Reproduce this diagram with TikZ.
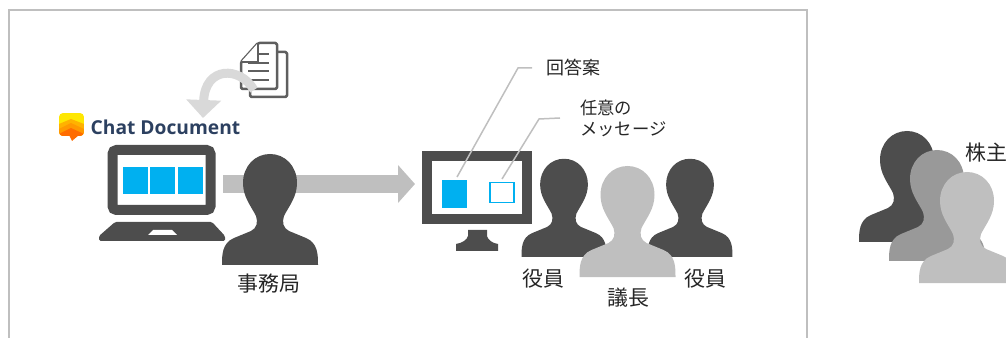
\documentclass[tikz,border=0pt]{standalone}
\usepackage{fontspec}
\setmainfont{Noto Sans CJK JP}
\newfontfamily\chatfont{Open Sans}
\usetikzlibrary{arrows.meta,positioning}
\newcommand{\px}{0.75pt}
\newcommand{\jp}[1]{\fontsize{#1}{#1}\selectfont}

\begin{document}
\begin{tikzpicture}[x=0.75pt,y=-0.75pt,
    person/.pic={
      \fill[pic actions] (-48,0) .. controls (-48,-10) and (-48,-22) .. (-36,-27)
        -- (-19,-34) .. controls (-13,-37) and (-12,-43) .. (-14,-49)
        .. controls (-19,-59) and (-27,-68) .. (-27,-82)
        .. controls (-27,-99) and (-15,-111) .. (0,-111)
        .. controls (15,-111) and (27,-99) .. (27,-82)
        .. controls (27,-68) and (19,-59) .. (14,-49)
        .. controls (12,-43) and (13,-37) .. (19,-34)
        -- (36,-27) .. controls (48,-22) and (48,-10) .. (48,0) -- cycle;
    }]
  \definecolor{dark}{HTML}{4D4D4D}
  \definecolor{mid}{HTML}{999999}
  \definecolor{light}{HTML}{BFBFBF}
  \definecolor{sky}{HTML}{00B0F0}
  \tikzstyle{every node}=[inner sep=0pt,outer sep=0pt]
  \tikzstyle{screen}=[draw=dark,fill=white,line width=10*\px]
  \tikzstyle{panel}=[fill=sky,minimum width=25*\px,minimum height=27*\px]
  \tikzstyle{leader}=[draw=light,line width=1.5*\px]
  \tikzstyle{sheet}=[draw=dark!90,fill=white,line width=2.5*\px,line join=round]
  \tikzstyle{label}=[font=\jp{15.7},text=black!85]
  \tikzstyle{small}=[font=\jp{13},text=black!85]
  \useasboundingbox (0,0) rectangle (1006,338);

  % frame
  \draw[light,line width=1.5*\px] (9,338) -- (9,10) -- (807,10) -- (807,338);

  % laptop and monitor
  \node[screen,rounded corners=4*\px,minimum width=98*\px,minimum height=60*\px] (laptop) at (161.5,180) {};
  \node[panel] (tile_a) at (135,180.5) {};
  \node[panel] (tile_b) [right=2.5*\px of tile_a] {};
  \node[panel] (tile_c) [right=2.5*\px of tile_b] {};
  \fill[dark,rounded corners=1.5*\px] (99,241) -- (99,236) -- (115,222) -- (212,222) -- (225,236) -- (225,241) -- cycle;
  \fill[white] (148,235) -- (153,230) -- (172,230) -- (177,235) -- cycle;

  \node[screen,minimum width=100*\px,minimum height=62.5*\px] (monitor) at (477,187.5) {};
  \node[panel,minimum height=28*\px] (answer) at (454.5,194) {};
  \node[draw=sky,fill=white,line width=1.5*\px,minimum width=24*\px,minimum height=20*\px] (message) at (502,192.5) {};
  \fill[dark] (468,230) -- (487,230) -- (487,236) .. controls (488,240) and (492,243) .. (498,244)
    -- (498,251) -- (456,251) -- (456,244) .. controls (462,243) and (467,240) .. (468,236) -- cycle;

  % main arrow
  \coordinate (flow_in) at (223,184);
  \coordinate (flow_out) at (monitor.west |- flow_in);
  \path[light,line width=18*\px,-{Triangle[length=17*\px,width=37*\px]},shorten >=12*\px]
    (flow_in) edge (flow_out);

  % people
  \pic[fill=dark] (clerk) at (270,265) {person};
  \pic[fill=dark,scale=0.885] (member_a) at (564,257) {person};
  \pic[fill=dark,scale=0.885] (member_b) at (690,257) {person};
  \pic[fill=light] (chair) at (627.5,277) {person};
  \pic[fill=dark] (holder_a) at (907,242) {person};
  \pic[fill=mid] (holder_b) at (937,261) {person};
  \pic[fill=light] (holder_c) at (967,283) {person};

  % documents
  \path[sheet,rounded corners=1.5*\px] (250,90) -- (250,97) -- (287,97) -- (287,52) -- (277,52);
  \path[sheet,rounded corners=1.5*\px] (241,62) -- (258,43) -- (277,43) -- (277,89) -- (241,89) -- cycle;
  \path[sheet] (241,62) -- (258,62) -- (258,43);
  \draw[dark!90,line width=1.5*\px] (259,54) -- (269,54) (248,63) -- (269,63) (248,71) -- (269,71) (248,80) -- (269,80);

  \coordinate (drop_in) at (254,90);
  \coordinate (drop_out) at (203,118);
  \draw[black!15,line width=9*\px,-{Triangle[length=18*\px,width=34*\px]}]
    (drop_in) .. controls (240,66) and (205,66) .. (drop_out);

  % logo
  \begin{scope}
    \clip[rounded corners=4*\px] (59,113) rectangle (84,136);
    \fill[yellow!90!orange] (59,113) rectangle (84,136);
    \fill[orange!60!yellow] (59,124) -- (71,119) -- (84,124) -- (84,136) -- (59,136) -- cycle;
    \fill[orange!80!yellow] (59,129) -- (71,123) -- (84,129) -- (84,136) -- (59,136) -- cycle;
    \fill[orange!85!red] (59,134) -- (71,128) -- (84,134) -- (84,136) -- (59,136) -- cycle;
  \end{scope}
  \fill[orange!85!red] (69,135) -- (79,135) -- (72,141) -- cycle;
  \node (chat) at (165.5,127) {\chatfont\bfseries\color[HTML]{2C4060}\jp{14.4}Chat Document};

  % leaders
  \node[font=\jp{13.5},text=black!85] (reply) at (573,68) {回答案};
  \node[small,align=left,anchor=north west] (note) at (580,100) {任意の\\[3pt]メッセージ};
  \coordinate (reply_end) at (457,177);
  \coordinate (reply_bend) at (518,68);
  \coordinate (note_end) at (502,179);
  \coordinate (note_bend) at (539,119);
  \draw[leader] (reply_end) -- (reply_bend) -- ([xshift=-14*\px]reply.west);
  \draw[leader] (note_end) -- (note_bend) -- (560,118);

  % captions
  \node[label] (clerk_label) at (269,284) {事務局};
  \node[label] (member_a_label) at (543,279) {役員};
  \node[label] (member_b_label) at (705,279) {役員};
  \node[label] (chair_label) at (628,298) {議長};
  \node[label] (holder_label) at (986,153) {株主};
\end{tikzpicture}
\end{document}
